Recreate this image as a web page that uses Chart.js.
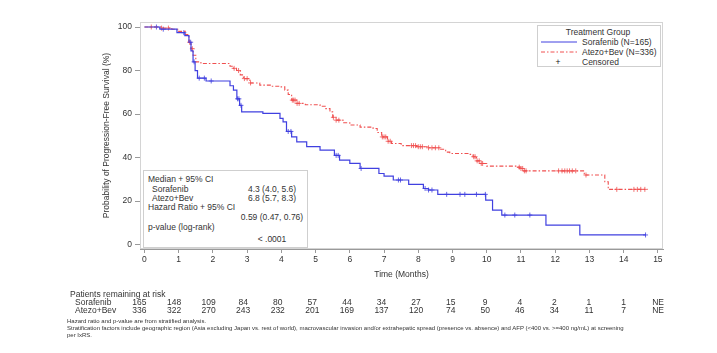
<!DOCTYPE html>
<html>
<head>
<meta charset="utf-8">
<script src="https://cdn.jsdelivr.net/npm/chart.js@4.4.1/dist/chart.umd.min.js"></script>
<style>
  html, body { margin: 0; padding: 0; background: #fff; }
  #wrap { position: relative; width: 717px; height: 353px; font-family: Arial, "Liberation Sans", sans-serif; color: #333; overflow: hidden; }
  #wrap canvas { position: absolute; left: 0; top: 0; }
  .t { position: absolute; white-space: nowrap; line-height: 1; font-size: 8.5px; }
  .box { position: absolute; border: 1px solid #cfcfcf; background: #fff; }
  .foot { font-size: 6px; }
</style>
</head>
<body>
<div id="wrap">
  <canvas id="km" width="717" height="353"></canvas>

  <!-- legend -->
  <div class="box" style="left:537px;top:25px;width:122px;height:40px;"></div>
  <div class="t" style="left:598px;top:27.5px;transform:translateX(-50%);">Treatment Group</div>
  <svg style="position:absolute;left:541px;top:40px;" width="37" height="4">
    <line x1="0" y1="2" x2="36" y2="2" stroke="#4040e0" stroke-width="1"/>
  </svg>
  <div class="t" style="left:582px;top:38px;">Sorafenib (N=165)</div>
  <svg style="position:absolute;left:541px;top:50px;" width="37" height="4">
    <line x1="0" y1="2" x2="36" y2="2" stroke="#f05050" stroke-width="1" stroke-dasharray="4 2 1.5 2"/>
  </svg>
  <div class="t" style="left:582px;top:48px;">Atezo+Bev (N=336)</div>
  <div class="t" style="left:558px;top:57.5px;transform:translateX(-50%);color:#111;">+</div>
  <div class="t" style="left:582px;top:57.5px;">Censored</div>

  <!-- stats box -->
  <div class="box" style="left:143px;top:170px;width:163px;height:76px;"></div>
  <div class="t" style="left:148px;top:175px;">Median + 95% CI</div>
  <div class="t" style="left:152px;top:184.5px;">Sorafenib</div>
  <div class="t" style="left:272px;top:184.5px;transform:translateX(-50%);" id="medS"></div>
  <div class="t" style="left:152px;top:193.5px;">Atezo+Bev</div>
  <div class="t" style="left:272px;top:193.5px;transform:translateX(-50%);" id="medA"></div>
  <div class="t" style="left:148px;top:202.5px;">Hazard Ratio + 95% CI</div>
  <div class="t" style="left:272px;top:212.5px;transform:translateX(-50%);" id="hr"></div>
  <div class="t" style="left:148px;top:223px;">p-value (log-rank)</div>
  <div class="t" style="left:272px;top:234.5px;transform:translateX(-50%);" id="pval"></div>

  <!-- at-risk table -->
  <div class="t" style="left:70px;top:290px;">Patients remaining at risk</div>
  <div class="t" style="left:75px;top:298px;">Sorafenib</div>
  <div class="t" style="left:75px;top:306px;">Atezo+Bev</div>
  <div id="riskRows"></div>

  <!-- footnotes -->
  <div class="t foot" style="left:67px;top:318px;">Hazard ratio and p-value are from stratified analysis.</div>
  <div class="t foot" style="left:67px;top:325px;">Stratification factors include geographic region (Asia excluding Japan vs. rest of world), macrovascular invasion and/or extrahepatic spread (presence vs. absence) and AFP (&lt;400 vs. &gt;=400 ng/mL) at screening</div>
  <div class="t foot" style="left:67px;top:332px;">per IxRS.</div>
</div>

<script>
// ── Data ──────────────────────────────────────────────────────────────────────
const soraTimes = [0, 0.45, 0.95, 1.18, 1.3, 1.36, 1.42, 1.48, 1.55, 1.8, 2.5, 2.6, 2.7, 2.78, 2.84, 3.46, 3.96, 4.05, 4.15, 4.3, 4.45,
                   4.74, 5.13, 5.55, 5.7, 6.0, 6.3, 6.85, 7.0, 7.27, 7.72, 8.15, 8.3, 8.57, 9.97, 10.17, 10.44, 11.73, 12.72, 14.65];
const soraSurv  = [100, 99, 97.4, 96, 93, 89, 84, 80, 76.5, 75.2, 73, 71, 67, 64, 61, 60.3, 58, 56.4, 52, 49.5, 47.2,
                   45, 43.4, 41, 38.8, 37.3, 35, 32.7, 31.5, 29.7, 27.7, 25.8, 25.1, 23.1, 20.5, 15.9, 13.6, 9.0, 4.45, 4.45];

const atezoTimes = [0, 0.5, 0.8, 1.0, 1.2, 1.3, 1.36, 1.42, 1.5, 1.65, 2.5, 2.6, 2.69, 2.8, 2.89, 3.08, 3.37, 3.7, 3.96, 4.1, 4.2,
                    4.3, 4.45, 4.7, 5.13, 5.3, 5.42, 5.5, 5.6, 5.8, 6.0, 6.3, 6.68, 6.8, 6.93, 7.1, 7.22, 7.5, 7.95, 8.3, 8.63,
                    8.8, 8.92, 9.5, 9.6, 9.7, 9.8, 10.0, 10.9, 10.97, 11.06, 12.85, 13.45, 13.55, 13.62, 14.7];
const atezoSurv  = [100, 99.5, 99, 98, 96.5, 93, 90, 87, 84, 83.2, 82, 81, 80, 78, 76.3, 74.3, 73.3, 72.8, 72.5, 71, 69,
                    66.4, 64.9, 64.3, 63.6, 62.5, 61, 58.5, 57.2, 56, 55, 54, 53.4, 51.5, 49.5, 47.5, 46.5, 45.5, 45, 44.5, 43.8,
                    42.5, 41.9, 41.5, 40.4, 38.5, 37.3, 36.1, 35.6, 35, 33.9, 32, 28.9, 25.4, 25.4, 25.4];

const soraCensor  = [0.35, 0.55, 1.15, 1.35, 1.45, 1.6, 1.75, 1.95, 2.72, 2.76, 2.82, 4.2, 4.28, 5.6, 5.66, 6.33, 7.42, 7.48,
                     8.2, 8.3, 8.4, 8.83, 9.22, 9.36, 9.7, 9.96, 10.53, 10.82, 11.26, 14.64];
const atezoCensor = [0.2, 0.5, 0.7, 1.32, 1.4, 2.62, 2.75, 2.92, 3.0, 3.1, 4.32, 4.36, 4.4, 4.46, 4.52, 5.52, 5.6, 5.68,
                     6.95, 7.0, 7.05, 7.12, 7.18, 7.8, 7.86, 7.92, 8.0, 8.06, 8.12, 8.3, 8.4, 8.5, 8.6, 9.62, 9.66, 9.72,
                     9.78, 9.84, 9.88, 10.95, 11.0, 11.05, 11.1, 11.15, 12.1, 12.2, 12.28, 12.35, 12.42, 12.5, 12.6, 12.9,
                     13.8, 14.3, 14.4, 14.5, 14.62];

const xTicks = [0, 1, 2, 3, 4, 5, 6, 7, 8, 9, 10, 11, 12, 13, 14, 15];
const yTicks = [0, 20, 40, 60, 80, 100];

const riskSora  = ["165", "148", "109", "84", "80", "57", "44", "34", "27", "15", "9", "4", "2", "1", "1", "NE"];
const riskAtezo = ["336", "322", "270", "243", "232", "201", "169", "137", "120", "74", "50", "46", "34", "11", "7", "NE"];

const medianSora  = "4.3 (4.0, 5.6)";
const medianAtezo = "6.8 (5.7, 8.3)";
const hazardRatio = "0.59 (0.47, 0.76)";
const pValue      = "< .0001";

const BLUE = "#4040e0";
const RED  = "#f05050";

// ── Helpers ───────────────────────────────────────────────────────────────────
const toPoints = (ts, ss) => ts.map((t, i) => ({ x: t, y: ss[i] }));

function survAt(ts, ss, t) {
  let s = ss[0];
  for (let i = 0; i < ts.length; i++) if (ts[i] <= t) s = ss[i];
  return s;
}
const censorPoints = (cs, ts, ss) => cs.map(t => ({ x: t, y: survAt(ts, ss, t) }));

// light frame round the plot area
const framePlugin = {
  id: "frame",
  beforeDatasetsDraw(c) {
    const a = c.chartArea, ctx = c.ctx;
    ctx.save();
    ctx.strokeStyle = "#d4d4d4";
    ctx.lineWidth = 1;
    ctx.strokeRect(a.left + 0.5, a.top + 0.5, a.width - 1, a.height - 1);
    ctx.restore();
  },
};

const tickFont = { family: "Arial, 'Liberation Sans', sans-serif", size: 8.5 };

// ── Chart ─────────────────────────────────────────────────────────────────────
const chart = new Chart(document.getElementById("km").getContext("2d"), {
  type: "line",
  data: {
    datasets: [
      { label: "Sorafenib (N=165)", data: toPoints(soraTimes, soraSurv), borderColor: BLUE, borderWidth: 1.2,
        stepped: true, pointRadius: 0, fill: false },
      { label: "Atezo+Bev (N=336)", data: toPoints(atezoTimes, atezoSurv), borderColor: RED, borderWidth: 1.1,
        borderDash: [4, 2, 1.5, 2], stepped: true, pointRadius: 0, fill: false },
      { label: "Censored S", data: censorPoints(soraCensor, soraTimes, soraSurv), showLine: false,
        pointStyle: "cross", pointRadius: 2.5, borderColor: BLUE, borderWidth: 0.8, backgroundColor: BLUE },
      { label: "Censored A", data: censorPoints(atezoCensor, atezoTimes, atezoSurv), showLine: false,
        pointStyle: "cross", pointRadius: 2.5, borderColor: RED, borderWidth: 0.8, backgroundColor: RED },
    ],
  },
  options: {
    responsive: false,
    animation: false,
    layout: { padding: { left: 97, top: 22, right: 54, bottom: 69 } },
    plugins: { legend: { display: false }, tooltip: { enabled: false } },
    scales: {
      x: {
        type: "linear", min: -0.13, max: 15.15,
        afterBuildTicks: s => { s.ticks = xTicks.map(v => ({ value: v })); },
        afterFit: s => { s.height = 35; },
        ticks: { font: tickFont, color: "#333", padding: 2, maxRotation: 0 },
        grid: { drawOnChartArea: false, tickLength: 4, color: "#9a9a9a" },
        border: { color: "#9a9a9a" },
        title: { display: true, text: "Time (Months)", font: tickFont, color: "#333", padding: { top: 4, bottom: 4 } },
      },
      y: {
        min: -2, max: 102.3,
        afterBuildTicks: s => { s.ticks = yTicks.map(v => ({ value: v })); },
        afterFit: s => { s.width = 43; },
        ticks: { font: tickFont, color: "#333", padding: 3 },
        grid: { drawOnChartArea: false, tickLength: 5, color: "#9a9a9a" },
        border: { color: "#9a9a9a" },
        title: { display: true, text: "Probability of Progression-Free Survival (%)", font: tickFont, color: "#333",
                 padding: { top: 5, bottom: 4 } },
      },
    },
  },
  plugins: [framePlugin],
});

// ── Text in the stats box ─────────────────────────────────────────────────────
document.getElementById("medS").textContent = medianSora;
document.getElementById("medA").textContent = medianAtezo;
document.getElementById("hr").textContent   = hazardRatio;
document.getElementById("pval").textContent = pValue;

// ── At-risk rows, lined up with the x ticks ───────────────────────────────────
const xs = chart.scales.x;
const rows = document.getElementById("riskRows");
xTicks.forEach((t, i) => {
  const px = xs.getPixelForValue(t) - 5 + i * 0.35;
  rows.insertAdjacentHTML("beforeend",
    `<div class="t" style="left:${px}px;top:298px;transform:translateX(-50%);">${riskSora[i]}</div>` +
    `<div class="t" style="left:${px}px;top:306px;transform:translateX(-50%);">${riskAtezo[i]}</div>`);
});
</script>
</body>
</html>
